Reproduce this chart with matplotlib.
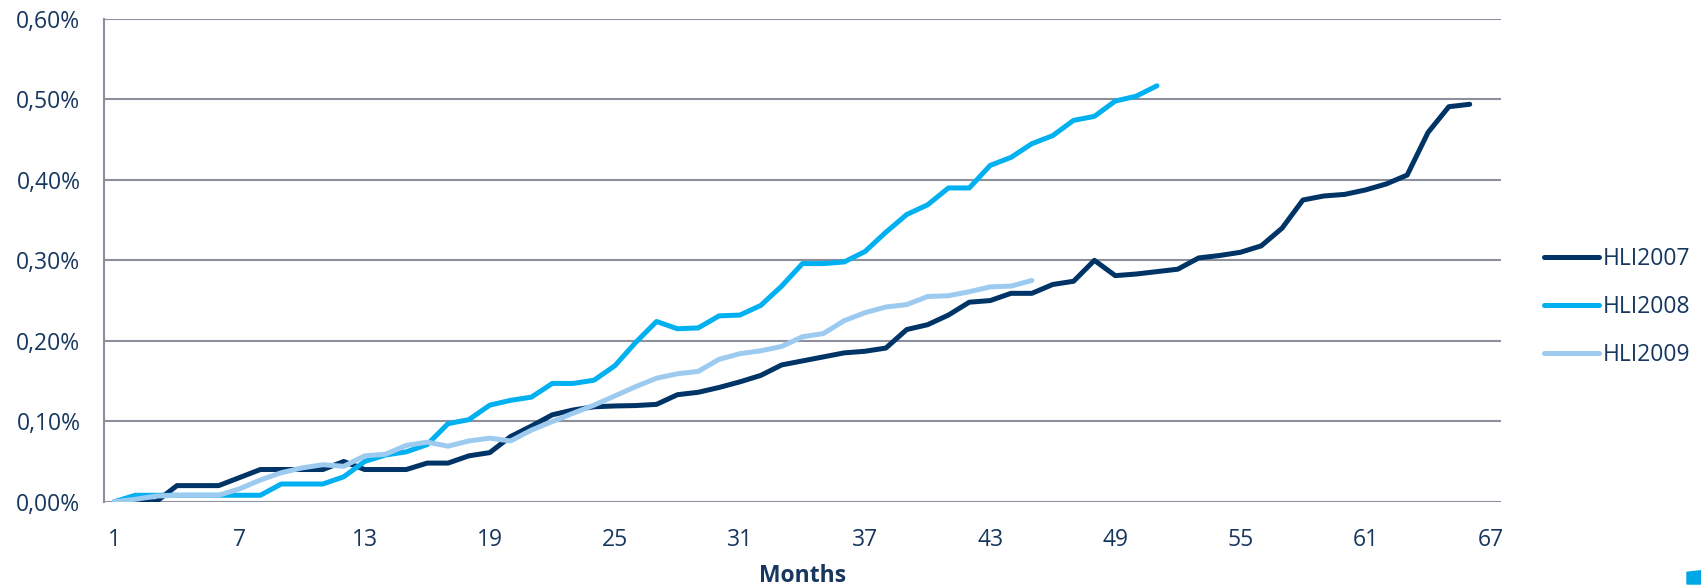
import matplotlib.pyplot as plt
from matplotlib.patches import Polygon
from matplotlib.ticker import FuncFormatter

# 数据：各年份的累计比例（%）
hli2007 = [0, 0, 0, 0.02, 0.02, 0.02, 0.03, 0.04, 0.04, 0.04,
           0.04, 0.05, 0.04, 0.04, 0.04, 0.048, 0.048, 0.057, 0.061, 0.081,
           0.094, 0.108, 0.114, 0.118, 0.119, 0.1195, 0.121, 0.133, 0.136, 0.142,
           0.149, 0.157, 0.170, 0.175, 0.180, 0.185, 0.187, 0.191, 0.214, 0.220,
           0.232, 0.248, 0.250, 0.259, 0.259, 0.270, 0.274, 0.300, 0.281, 0.283,
           0.286, 0.289, 0.303, 0.306, 0.310, 0.318, 0.340, 0.375, 0.380, 0.382,
           0.3875, 0.395, 0.406, 0.459, 0.491, 0.494]
hli2008 = [0, 0.008, 0.008, 0.008, 0.008, 0.008, 0.008, 0.008, 0.022, 0.022,
           0.022, 0.031, 0.05, 0.058, 0.062, 0.071, 0.097, 0.102, 0.12, 0.126,
           0.130, 0.147, 0.147, 0.151, 0.169, 0.198, 0.224, 0.215, 0.216, 0.231,
           0.232, 0.244, 0.268, 0.296, 0.296, 0.298, 0.311, 0.335, 0.357, 0.369,
           0.390, 0.390, 0.418, 0.428, 0.445, 0.455, 0.474, 0.479, 0.498, 0.504,
           0.517]
hli2009 = [0, 0.003, 0.007, 0.008, 0.008, 0.008, 0.016, 0.027, 0.036, 0.042,
           0.046, 0.044, 0.057, 0.059, 0.070, 0.074, 0.069, 0.0755, 0.079, 0.0755,
           0.089, 0.0996, 0.110, 0.120, 0.1315, 0.143, 0.1535, 0.159, 0.162, 0.177,
           0.184, 0.1876, 0.193, 0.205, 0.209, 0.225, 0.235, 0.242, 0.245, 0.255,
           0.256, 0.261, 0.267, 0.268, 0.275]
series_names = ['HLI2007', 'HLI2008', 'HLI2009']
x_ticks = list(range(1, 68, 6))
y_ticks = [0, 0.1, 0.2, 0.3, 0.4, 0.5, 0.6]

plt.rcParams['font.family'] = ['Open Sans', 'DejaVu Sans']
text_color = '#17375e'
grid_color = '#8c8f9c'

fig = plt.figure(figsize=(17.01, 5.87), dpi=100)
ax = fig.add_axes([104 / 1701, 1 - 501.7 / 587, (1501 - 104) / 1701, (501.7 - 19) / 587])

colors = ['#003466', '#00b0f0', '#9dcbf0']
for vals, name, c in zip([hli2007, hli2008, hli2009], series_names, colors):
    ax.plot(range(1, len(vals) + 1), vals, color=c, lw=3.6, label=name,
            solid_capstyle='round', solid_joinstyle='round', zorder=3)

ax.set_xlim(0.5, 67.5)
ax.set_ylim(0, 0.6)
ax.set_xticks(x_ticks)
ax.set_yticks(y_ticks)
ax.yaxis.set_major_formatter(FuncFormatter(lambda v, p: f'{v:.2f}%'.replace('.', ',')))
ax.grid(axis='y', color=grid_color, lw=1.5)
ax.set_axisbelow(True)
for s in ['top', 'right', 'bottom']:
    ax.spines[s].set_visible(False)
ax.spines['left'].set_color(grid_color)
ax.spines['left'].set_linewidth(1.5)
ax.tick_params(length=0, labelsize=16.5, labelcolor=text_color)
ax.tick_params(axis='y', pad=17)
ax.tick_params(axis='x', pad=19)
ax.set_xlabel('Months', fontsize=16.5, fontweight='bold', color=text_color, labelpad=8.5)

fig.legend(loc='center left', bbox_to_anchor=(1544 / 1701, 1 - 307 / 587),
           frameon=False, fontsize=16.5, handlelength=2.4, handletextpad=0.15,
           labelspacing=1.05, borderpad=0, borderaxespad=0, labelcolor=text_color)

# 右下角的小色块
corner = Polygon([(1687 / 1701, 1 - 584 / 587), (1, 1 - 584 / 587),
                  (1, 1 - 570.7 / 587), (1687 / 1701, 1 - 572.3 / 587)],
                 closed=True, transform=fig.transFigure, color='#00a7e6')
fig.patches.append(corner)

fig.savefig('out.png', dpi=100)
